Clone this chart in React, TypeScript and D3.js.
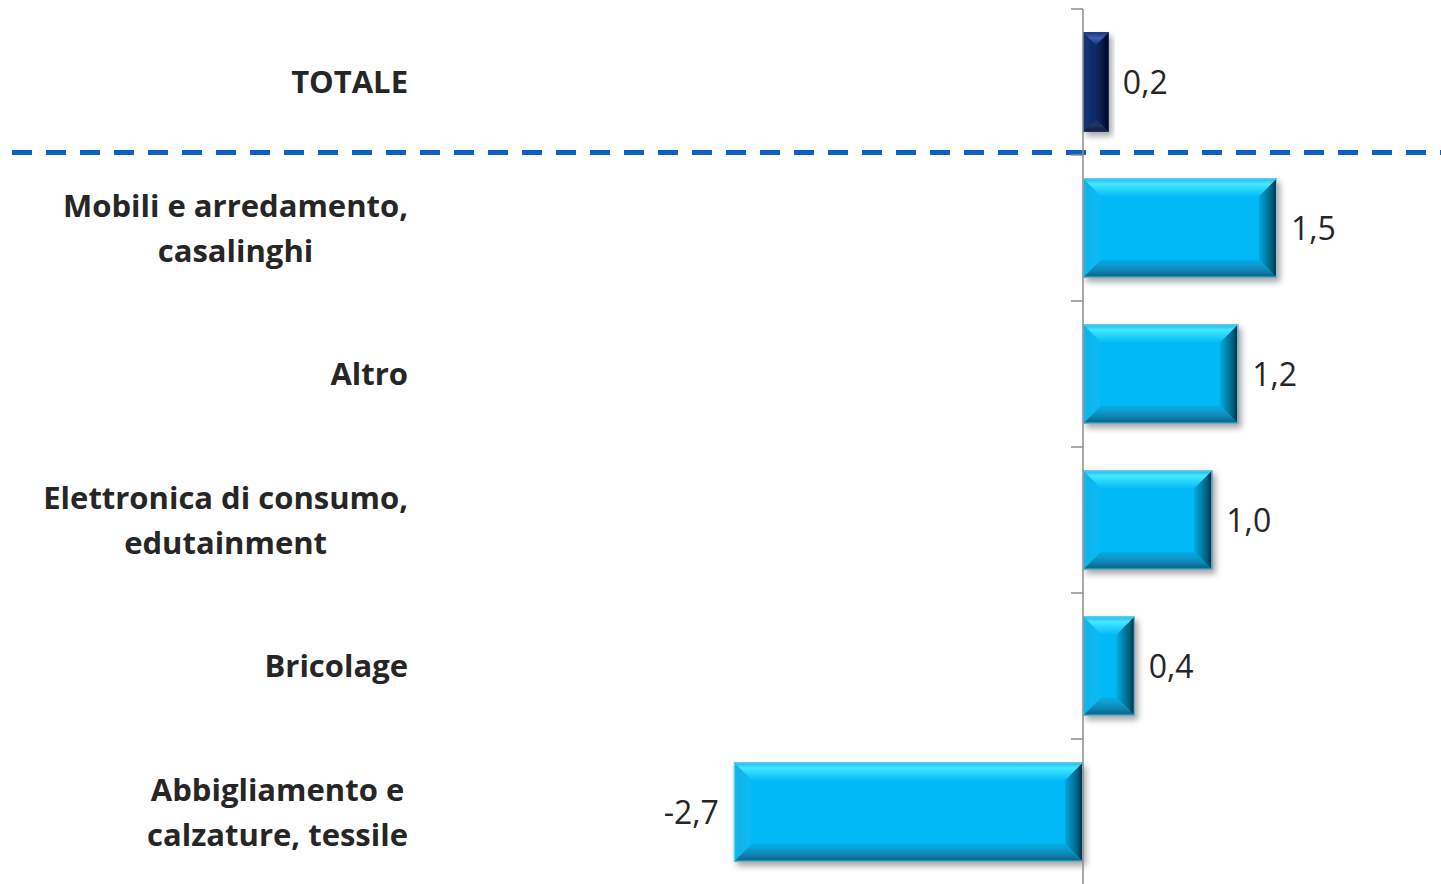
import React, { useEffect, useRef } from "react";
import * as d3 from "d3";

// Variazioni percentuali per settore merceologico
const categories = [
  "TOTALE",
  "Mobili e arredamento,\ncasalinghi",
  "Altro",
  "Elettronica di consumo,\nedutainment",
  "Bricolage",
  "Abbigliamento e\ncalzature, tessile",
];
const values = [0.2, 1.5, 1.2, 1.0, 0.4, -2.7];
const highlighted = ["TOTALE"];

const W = 1441;
const H = 884;

const itLocale = d3.formatLocale({
  decimal: ",",
  thousands: ".",
  grouping: [3],
  currency: ["€", ""],
  minus: "-",
});
const fmt = itLocale.format(".1f");

type Scheme = {
  id: string;
  base: string;
  stroke: string;
  top: [number, string][];
  bottom: [number, string][];
  left: [number, string][];
  right: [number, string][];
};

const schemes: Scheme[] = [
  {
    id: "cyan",
    base: "#04b9f6",
    stroke: "#7fd3ef",
    top: [[0, "#1fb2e4"], [0.3, "#44e8ff"], [0.65, "#24d2fb"], [1, "#06bbf6"]],
    bottom: [[0, "#0a5a7c"], [0.4, "#0a86b3"], [1, "#05b0ea"]],
    left: [[0, "#14b3e8"], [1, "#06baf6"]],
    right: [[0, "#00263a"], [0.3, "#06607f"], [1, "#05aae2"]],
  },
  {
    id: "navy",
    base: "#0c2966",
    stroke: "#1d3a78",
    top: [[0, "#1a3a82"], [0.45, "#3c5fa8"], [1, "#12307a"]],
    bottom: [[0, "#0b1830"], [0.5, "#24365e"], [1, "#0f2a62"]],
    left: [[0, "#16357a"], [1, "#0c2966"]],
    right: [[0, "#000613"], [0.4, "#061640"], [1, "#0c2966"]],
  },
];

const FONT = "'Open Sans', Lato, sans-serif";

export default function App() {
  const ref = useRef<SVGSVGElement | null>(null);

  useEffect(() => {
    const svg = d3.select(ref.current);
    svg.selectAll("*").remove();

    const x = d3.scaleLinear().domain([-3, 3]).range([1083 - 3 * 129.3, 1083 + 3 * 129.3]);
    const y = d3
      .scaleBand<string>()
      .domain(categories)
      .range([9, 885])
      .paddingInner(0.32)
      .paddingOuter(0.16);
    const [r0] = y.range();

    const defs = svg.append("defs");
    const filter = defs
      .append("filter")
      .attr("id", "barShadow")
      .attr("x", "-20%")
      .attr("y", "-20%")
      .attr("width", "140%")
      .attr("height", "150%");
    filter
      .append("feDropShadow")
      .attr("dx", 3)
      .attr("dy", 4)
      .attr("stdDeviation", 3)
      .attr("flood-color", "#000")
      .attr("flood-opacity", 0.35);

    const dirs: Record<string, [number, number, number, number]> = {
      top: [0, 0, 0, 1],
      bottom: [0, 1, 0, 0],
      left: [0, 0, 1, 0],
      right: [1, 0, 0, 0],
    };
    schemes.forEach((s) => {
      (["top", "bottom", "left", "right"] as const).forEach((side) => {
        const [x1, y1, x2, y2] = dirs[side];
        const g = defs
          .append("linearGradient")
          .attr("id", `${s.id}-${side}`)
          .attr("x1", x1)
          .attr("y1", y1)
          .attr("x2", x2)
          .attr("y2", y2);
        s[side].forEach(([o, c]) => g.append("stop").attr("offset", o).attr("stop-color", c));
      });
    });

    // Separatore tratteggiato sotto il totale
    const sepY = r0 + y.step() - 2.5;
    svg
      .append("line")
      .attr("x1", 12)
      .attr("x2", W)
      .attr("y1", sepY)
      .attr("y2", sepY)
      .attr("stroke", "#0b62c4")
      .attr("stroke-width", 5)
      .attr("stroke-dasharray", "20 14");

    // Barre con effetto smussato
    const bars = svg.append("g").attr("class", "bars");
    categories.forEach((cat, i) => {
      const v = values[i];
      const s = highlighted.includes(cat) ? schemes[1] : schemes[0];
      const x0 = Math.min(x(0), x(v));
      const x1 = Math.max(x(0), x(v));
      const y0 = y(cat)!;
      const y1 = y0 + y.bandwidth();
      const b = Math.min(18, (x1 - x0) / 2, (y1 - y0) / 2);
      const g = bars.append("g").attr("filter", "url(#barShadow)");
      g.append("rect")
        .attr("x", x0)
        .attr("y", y0)
        .attr("width", x1 - x0)
        .attr("height", y1 - y0)
        .attr("fill", s.base);
      const polys: Record<string, [number, number][]> = {
        top: [[x0, y0], [x1, y0], [x1 - b, y0 + b], [x0 + b, y0 + b]],
        bottom: [[x0, y1], [x1, y1], [x1 - b, y1 - b], [x0 + b, y1 - b]],
        left: [[x0, y0], [x0 + b, y0 + b], [x0 + b, y1 - b], [x0, y1]],
        right: [[x1, y0], [x1 - b, y0 + b], [x1 - b, y1 - b], [x1, y1]],
      };
      (["left", "right", "top", "bottom"] as const).forEach((side) => {
        g.append("polygon")
          .attr("points", polys[side].map((p) => p.join(",")).join(" "))
          .attr("fill", `url(#${s.id}-${side})`);
      });
      g.append("rect")
        .attr("x", x0 + 0.5)
        .attr("y", y0 + 0.5)
        .attr("width", x1 - x0 - 1)
        .attr("height", y1 - y0 - 1)
        .attr("fill", "none")
        .attr("stroke", s.stroke)
        .attr("stroke-width", 1);

      // Etichetta del valore
      svg
        .append("text")
        .attr("x", v >= 0 ? x(v) + 14 : x(v) - 15)
        .attr("y", (y0 + y1) / 2)
        .attr("dy", "0.36em")
        .attr("text-anchor", v >= 0 ? "start" : "end")
        .attr("font-family", FONT)
        .attr("font-size", 32)
        .attr("fill", "#262626")
        .text(fmt(v));
    });

    // Asse verticale con tacche
    const axis = svg.append("g");
    axis
      .append("line")
      .attr("x1", x(0))
      .attr("x2", x(0))
      .attr("y1", r0)
      .attr("y2", H)
      .attr("stroke", "#8c8c8c")
      .attr("stroke-width", 1.5);
    d3.range(categories.length + 1).forEach((k) => {
      const ty = r0 + k * y.step();
      axis
        .append("line")
        .attr("x1", x(0) - 12)
        .attr("x2", x(0))
        .attr("y1", ty)
        .attr("y2", ty)
        .attr("stroke", "#8c8c8c")
        .attr("stroke-width", 1.5);
    });

    // Etichette delle categorie, centrate e allineate a destra
    const labelRight = 408;
    const lineH = 45;
    categories.forEach((cat) => {
      const lines = cat.split("\n");
      const cy = y(cat)! + y.bandwidth() / 2;
      const g = svg.append("g");
      lines.forEach((ln, j) => {
        g.append("text")
          .attr("x", 0)
          .attr("y", cy + (j - (lines.length - 1) / 2) * lineH)
          .attr("dy", "0.36em")
          .attr("text-anchor", "middle")
          .attr("font-family", FONT)
          .attr("font-weight", 700)
          .attr("font-size", 31)
          .attr("fill", "#262626")
          .text(ln);
      });
      const bb = (g.node() as SVGGElement).getBBox();
      g.attr("transform", `translate(${labelRight - (bb.x + bb.width)},0)`);
    });
  }, []);

  return (
    <svg
      ref={ref}
      width={W}
      height={H}
      style={{ position: "absolute", left: 0, top: 0, background: "#fff" }}
    />
  );
}
